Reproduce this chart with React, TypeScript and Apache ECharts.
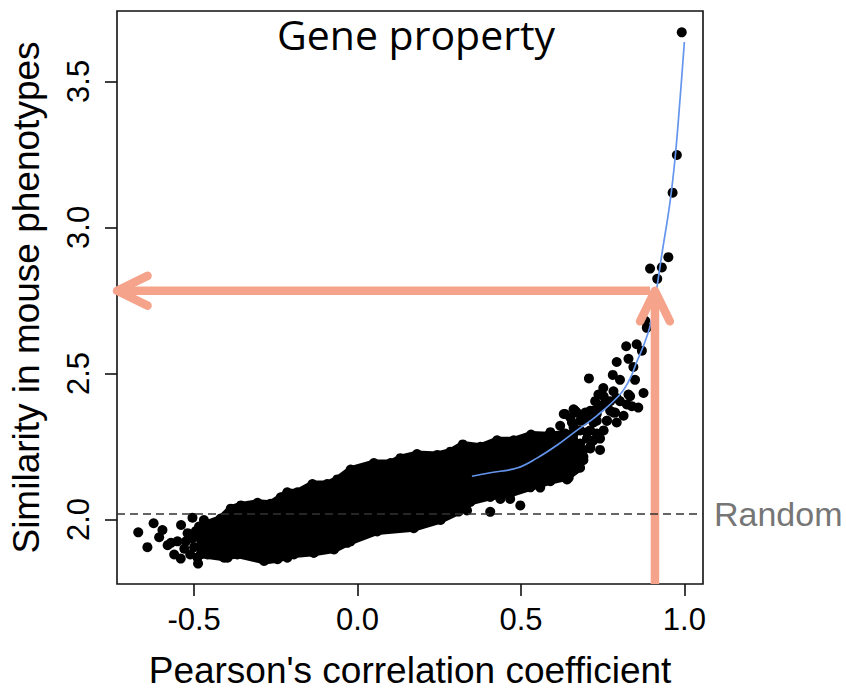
import React, { useEffect, useRef } from 'react';
import * as echarts from 'echarts';

// Axis ranges and ticks
const X_MIN = -0.736;
const X_MAX = 1.057;
const Y_MIN = 1.779;
const Y_MAX = 3.741;
const X_TICKS = [-0.5, 0.0, 0.5, 1.0];
const Y_TICKS = [2.0, 2.5, 3.0, 3.5];
const RANDOM_LEVEL = 2.02;

// Dense core of the point cloud: upper edge (left -> right)
const CORE_UPPER: number[][] = [
  [-0.485, 1.976], [-0.419, 2.003], [-0.388, 2.037], [-0.357, 2.048], [-0.306, 2.057],
  [-0.266, 2.054], [-0.235, 2.076], [-0.215, 2.093], [-0.184, 2.093], [-0.138, 2.121],
  [-0.093, 2.121], [-0.062, 2.137], [-0.021, 2.171], [0.050, 2.193], [0.101, 2.193],
  [0.131, 2.210], [0.182, 2.224], [0.244, 2.221], [0.284, 2.232], [0.322, 2.257],
  [0.376, 2.249], [0.427, 2.271], [0.478, 2.271], [0.531, 2.291], [0.585, 2.288],
  [0.636, 2.294], [0.661, 2.294],
];
// Dense core: lower edge (left -> right)
const CORE_LOWER: number[][] = [
  [-0.480, 1.880], [-0.408, 1.869], [-0.368, 1.880], [-0.286, 1.858], [-0.245, 1.864],
  [-0.195, 1.880], [-0.134, 1.886], [-0.072, 1.897], [-0.031, 1.920], [0.060, 1.959],
  [0.172, 1.970], [0.254, 1.998], [0.309, 2.027], [0.345, 2.060], [0.406, 2.077],
  [0.467, 2.087], [0.529, 2.110], [0.590, 2.131], [0.641, 2.144], [0.681, 2.177],
];
// Sparse points at the low-correlation end
const LEFT_POINTS: number[][] = [
  [-0.671, 1.956], [-0.624, 1.987], [-0.643, 1.905], [-0.597, 1.964], [-0.607, 1.939],
  [-0.581, 1.912], [-0.561, 1.880], [-0.541, 1.866], [-0.488, 1.849], [-0.540, 1.981],
  [-0.505, 2.006], [-0.571, 1.920], [-0.551, 1.925], [-0.525, 1.925], [-0.520, 1.953],
  [-0.470, 1.998], [-0.480, 1.970], [-0.459, 1.880], [-0.454, 1.925], [-0.449, 1.964],
  [-0.429, 1.903], [-0.470, 1.903], [-0.398, 1.869], [-0.368, 2.037], [-0.134, 1.886],
  [-0.103, 1.909], [-0.021, 1.925], [-0.215, 1.869], [-0.505, 1.935], [-0.500, 1.905],
  [-0.512, 1.880], [-0.495, 1.960], [-0.490, 1.870], [-0.530, 1.900],
];
// Points below / above the core in the middle range
const MID_POINTS: number[][] = [
  [0.335, 2.031], [0.406, 2.026], [0.437, 2.070], [0.467, 2.070], [0.498, 2.048],
  [0.559, 2.109], [0.641, 2.137], [0.600, 2.148], [0.646, 2.143],
];
// Rising tail at high correlation
const TAIL_POINTS: number[][] = [
  [0.992, 3.668], [0.977, 3.248], [0.964, 3.119], [0.951, 2.898], [0.931, 2.863],
  [0.895, 2.859], [0.917, 2.824], [0.885, 2.656], [0.880, 2.680], [0.854, 2.600],
  [0.822, 2.593], [0.870, 2.578], [0.829, 2.550], [0.793, 2.539], [0.844, 2.522],
  [0.781, 2.495], [0.708, 2.483], [0.803, 2.478], [0.849, 2.478], [0.875, 2.433],
  [0.752, 2.450], [0.737, 2.428], [0.829, 2.428], [0.783, 2.439], [0.763, 2.405],
  [0.803, 2.405], [0.839, 2.388], [0.859, 2.383], [0.814, 2.355], [0.783, 2.366],
  [0.742, 2.383], [0.712, 2.372], [0.691, 2.349], [0.671, 2.366], [0.651, 2.349],
  [0.722, 2.338], [0.763, 2.338], [0.681, 2.305], [0.732, 2.294], [0.661, 2.249],
  [0.712, 2.249], [0.681, 2.204], [0.635, 2.361], [0.559, 2.282], [0.691, 2.215],
  [0.834, 2.422], [0.666, 2.372], [0.697, 2.366], [0.722, 2.372], [0.753, 2.422],
  [0.773, 2.405], [0.788, 2.366], [0.656, 2.332], [0.691, 2.338], [0.732, 2.338],
  [0.753, 2.305], [0.671, 2.305], [0.712, 2.305], [0.702, 2.277], [0.742, 2.277],
  [0.671, 2.238], [0.712, 2.243], [0.651, 2.204], [0.691, 2.204], [0.570, 2.282],
  [0.600, 2.271], [0.631, 2.294], [0.661, 2.294], [0.580, 2.227], [0.620, 2.238],
  [0.580, 2.171], [0.620, 2.182], [0.661, 2.377], [0.690, 2.204], [0.742, 2.238],
  [0.631, 2.361], [0.727, 2.405], [0.753, 2.394], [0.793, 2.416], [0.824, 2.394],
  [0.732, 2.361], [0.773, 2.372], [0.702, 2.349], [0.681, 2.338], [0.722, 2.332],
  [0.763, 2.338], [0.793, 2.332], [0.620, 2.321], [0.661, 2.316], [0.702, 2.299],
  [0.590, 2.299], [0.620, 2.271], [0.681, 2.260], [0.722, 2.271], [0.651, 2.227],
  [0.691, 2.238],
];
// Fitted trend curve
const FIT_CURVE: number[][] = [
  [0.350, 2.148], [0.406, 2.160], [0.488, 2.176], [0.549, 2.210], [0.610, 2.254],
  [0.671, 2.305], [0.732, 2.355], [0.803, 2.428], [0.834, 2.483], [0.854, 2.539],
  [0.875, 2.595], [0.895, 2.662], [0.910, 2.751], [0.931, 2.907], [0.956, 3.086],
  [0.972, 3.242], [0.987, 3.443], [1.000, 3.635],
];
// Annotation arrows: [fromX, fromY, toX, toY]
const ARROWS: number[][] = [
  [0.910, Y_MIN, 0.910, 2.783],
  [0.895, 2.783, X_MIN, 2.783],
];

const FONT = '"Liberation Sans", Arial, Helvetica, sans-serif';
const SALMON = '#F5A48B';

export default function App() {
  const ref = useRef<HTMLDivElement>(null);

  useEffect(() => {
    if (!ref.current) return;
    const chart = echarts.init(ref.current, null, { renderer: 'svg' });
    const coreOutline = [...CORE_UPPER, ...CORE_LOWER.slice().reverse()];
    const allPoints = [...CORE_UPPER, ...CORE_LOWER, ...LEFT_POINTS, ...MID_POINTS, ...TAIL_POINTS];

    chart.setOption({
      animation: false,
      backgroundColor: '#fff',
      grid: {
        left: 116, top: 11, width: 587, height: 586,
        show: true, borderColor: '#111', borderWidth: 1.6, backgroundColor: 'transparent',
      },
      xAxis: {
        type: 'value', min: X_MIN, max: X_MAX,
        axisLine: { show: false, onZero: false },
        splitLine: { show: false },
        axisTick: { show: true, length: 12, lineStyle: { color: '#111', width: 1.6 }, customValues: X_TICKS },
        axisLabel: {
          customValues: X_TICKS, formatter: (v: number) => v.toFixed(1),
          fontSize: 31, color: '#000', fontFamily: FONT, margin: 20,
        },
        name: "Pearson's correlation coefficient", nameLocation: 'middle', nameGap: 68,
        nameTextStyle: { fontSize: 37, color: '#000', fontFamily: FONT },
      },
      yAxis: {
        type: 'value', min: Y_MIN, max: Y_MAX,
        axisLine: { show: false, onZero: false },
        splitLine: { show: false },
        axisTick: { show: true, length: 12, lineStyle: { color: '#111', width: 1.6 }, customValues: Y_TICKS },
        axisLabel: {
          customValues: Y_TICKS, formatter: (v: number) => v.toFixed(1), rotate: 90,
          fontSize: 31, color: '#000', fontFamily: FONT, margin: 23.5,
        },
        name: 'Similarity in mouse phenotypes', nameLocation: 'middle', nameGap: 72,
        nameTextStyle: { fontSize: 37, color: '#000', fontFamily: FONT },
      },
      graphic: [
        {
          type: 'text', z: 100,
          style: {
            text: 'Gene property', x: 416, y: 34, textAlign: 'center', textVerticalAlign: 'middle',
            font: '41px "Open Sans", "Noto Sans", sans-serif', fill: '#000',
          },
        },
      ],
      series: [
        {
          type: 'line', data: [], z: 1, silent: true,
          markLine: {
            silent: true, symbol: ['none', 'none'],
            lineStyle: { color: '#333', width: 1.6, type: [8, 5] },
            label: {
              show: true, position: 'end', formatter: 'Random', distance: 11,
              color: '#767676', fontSize: 34, fontFamily: FONT,
            },
            data: [{ yAxis: RANDOM_LEVEL }],
          },
        },
        {
          type: 'custom', z: 2, silent: true,
          data: [coreOutline[0]],
          renderItem: (params: any, api: any) => {
            const pts = coreOutline.map((p) => api.coord(p));
            return {
              type: 'polygon', shape: { points: pts },
              style: { fill: '#000', stroke: '#000', lineWidth: 7, lineJoin: 'round' },
            };
          },
        },
        {
          type: 'scatter', z: 2, silent: true,
          data: allPoints, symbol: 'circle', symbolSize: 10,
          itemStyle: { color: '#000', opacity: 1 },
        },
        {
          type: 'line', z: 3, silent: true,
          data: FIT_CURVE, smooth: 0.4, symbol: 'none',
          lineStyle: { color: '#6495ED', width: 1.7 },
        },
        {
          type: 'custom', z: 4, silent: true, clip: false,
          data: ARROWS,
          encode: { x: [0, 2], y: [1, 3] },
          renderItem: (params: any, api: any) => {
            const s = api.coord([api.value(0), api.value(1)]);
            const t = api.coord([api.value(2), api.value(3)]);
            const ang = Math.atan2(t[1] - s[1], t[0] - s[0]);
            const L = 34;
            const a = (26 * Math.PI) / 180;
            const b1 = [t[0] - L * Math.cos(ang - a), t[1] - L * Math.sin(ang - a)];
            const b2 = [t[0] - L * Math.cos(ang + a), t[1] - L * Math.sin(ang + a)];
            return {
              type: 'group',
              children: [
                {
                  type: 'line', shape: { x1: s[0], y1: s[1], x2: t[0], y2: t[1] },
                  style: { stroke: SALMON, lineWidth: 8.5, lineCap: 'butt' },
                },
                {
                  type: 'polyline', shape: { points: [b1, t, b2] },
                  style: { stroke: SALMON, lineWidth: 8.5, lineCap: 'round', lineJoin: 'round', fill: 'none' },
                },
              ],
            };
          },
        },
      ],
    });

    return () => chart.dispose();
  }, []);

  return (
    <div
      ref={ref}
      style={{ position: 'fixed', left: 0, top: 0, width: 846, height: 694, background: '#fff' }}
    />
  );
}
